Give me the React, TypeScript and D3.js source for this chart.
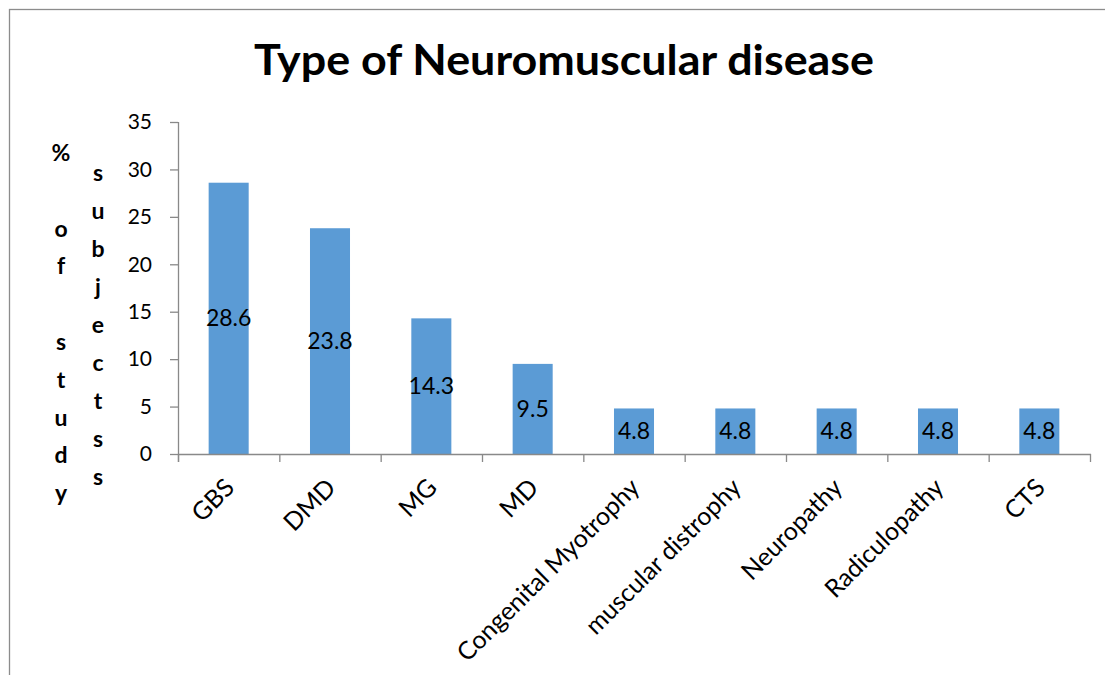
import React from "react";
import * as d3 from "d3";

const categories = ["GBS", "DMD", "MG", "MD", "Congenital Myotrophy", "muscular distrophy", "Neuropathy", "Radiculopathy", "CTS"];
const values = [28.6, 23.8, 14.3, 9.5, 4.8, 4.8, 4.8, 4.8, 4.8];
const yTicks = [0, 5, 10, 15, 20, 25, 30, 35];
const titleText = "Type of Neuromuscular disease";
const yTitleCol1 = ["%", "", "o", "f", "", "s", "t", "u", "d", "y"];
const yTitleCol2 = ["s", "u", "b", "j", "e", "c", "t", "s", "s"];

const W = 1105;
const H = 675;
const plot = { left: 178, right: 1090, top: 122, bottom: 454 };
const FONT = "Lato, Carlito, Calibri, sans-serif";
const AXIS = "#898989";
const BAR = "#5B9BD5";

export default function App() {
  const x = d3
    .scaleBand<string>()
    .domain(categories)
    .range([plot.left, plot.right])
    .paddingInner(0.605)
    .paddingOuter(0.3025);
  const cat = d3.scaleBand<string>().domain(categories).range([plot.left, plot.right]).padding(0);
  const y = d3.scaleLinear().domain([0, 35]).range([plot.bottom, plot.top]);

  const boundaries = categories.map((c) => cat(c) as number).concat([plot.right]);

  return (
    <svg
      width={W}
      height={H}
      style={{ position: "absolute", left: 0, top: 0, background: "#fff" }}
      fontFamily={FONT}
    >
      <rect x={9.5} y={9.5} width={1200} height={800} fill="#fff" stroke="#8c8c8c" strokeWidth={1.3} />
      <text
        x={564}
        y={75}
        textAnchor="middle"
        fontSize={42}
        fontWeight="bold"
        fill="#000"
        textLength={620}
        lengthAdjust="spacingAndGlyphs"
      >
        {titleText}
      </text>

      {/* y axis */}
      <line x1={plot.left + 0.5} x2={plot.left + 0.5} y1={plot.top} y2={plot.bottom + 8} stroke={AXIS} strokeWidth={1.3} />
      {yTicks.map((t) => (
        <g key={t}>
          <line x1={plot.left - 8} x2={plot.left} y1={y(t) + 0.5} y2={y(t) + 0.5} stroke={AXIS} strokeWidth={1.3} />
          <text x={152} y={y(t)} dy="0.35em" textAnchor="end" fontSize={21} fill="#000">
            {t}
          </text>
        </g>
      ))}

      {/* bars */}
      {categories.map((c, i) => (
        <rect
          key={c}
          x={x(c)}
          y={y(values[i])}
          width={x.bandwidth()}
          height={y(0) - y(values[i])}
          fill={BAR}
        />
      ))}

      {/* x axis */}
      <line x1={plot.left} x2={plot.right + 1} y1={plot.bottom + 0.5} y2={plot.bottom + 0.5} stroke={AXIS} strokeWidth={1.3} />
      {boundaries.map((b, i) => (
        <line key={i} x1={b + 0.5} x2={b + 0.5} y1={plot.bottom} y2={plot.bottom + 8} stroke={AXIS} strokeWidth={1.3} />
      ))}

      {/* data labels */}
      {categories.map((c, i) => (
        <text
          key={c}
          x={(x(c) as number) + x.bandwidth() / 2}
          y={(y(values[i]) + y(0)) / 2}
          dy="0.35em"
          textAnchor="middle"
          fontSize={23}
          fill="#000"
        >
          {values[i]}
        </text>
      ))}

      {/* category labels */}
      {categories.map((c) => {
        const cx = (cat(c) as number) + cat.bandwidth() / 2;
        return (
          <text
            key={c}
            transform={`translate(${cx + 1},${plot.bottom + 29}) rotate(-45)`}
            textAnchor="end"
            dy="0.35em"
            fontSize={25}
            fill="#000"
          >
            {c}
          </text>
        );
      })}

      {/* y axis title in stacked letters */}
      {yTitleCol1.map((ch, i) => (
        <text key={"a" + i} x={61} y={153 + i * 37.8} dy="0.35em" textAnchor="middle" fontSize={23} fontWeight="bold" fill="#000">
          {ch}
        </text>
      ))}
      {yTitleCol2.map((ch, i) => (
        <text key={"b" + i} x={98} y={173 + i * 38} dy="0.35em" textAnchor="middle" fontSize={23} fontWeight="bold" fill="#000">
          {ch}
        </text>
      ))}
    </svg>
  );
}
